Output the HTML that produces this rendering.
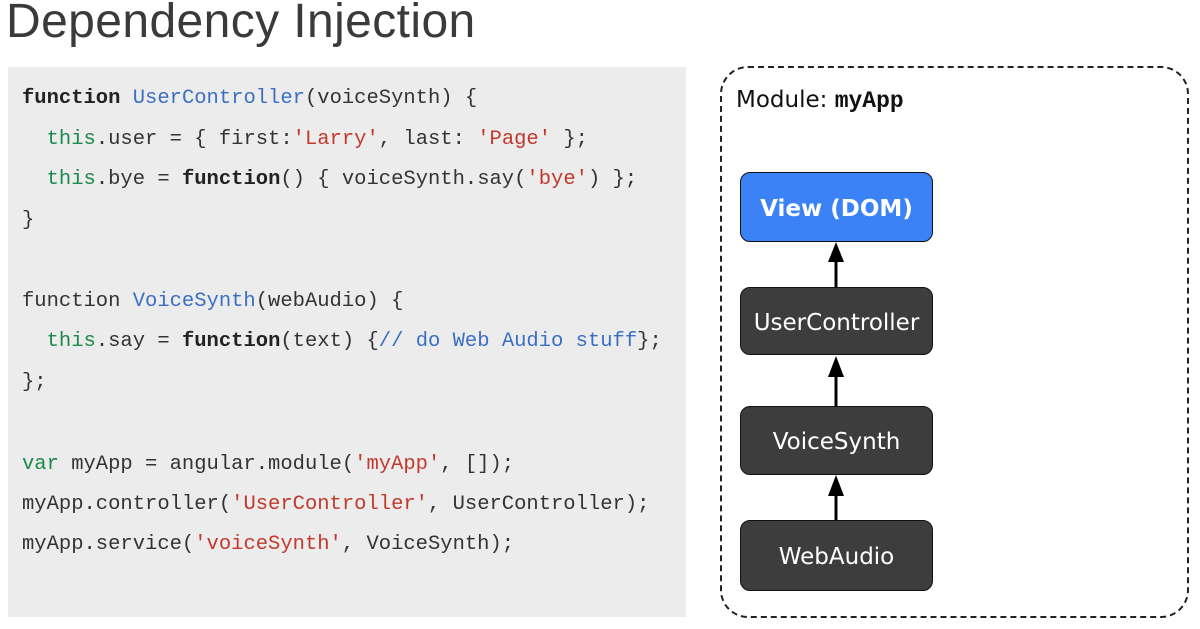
<!DOCTYPE html>
<html><head><meta charset="utf-8"><style>
body{margin:0;width:1200px;height:629px;background:#fff;position:relative;overflow:hidden;font-family:"Liberation Sans",sans-serif}
.title{position:absolute;left:6px;top:-6px;font-size:48px;color:#3a3a3a;letter-spacing:0.4px}
.code{position:absolute;left:8px;top:67px;width:678px;height:550px;background:#ececec}
.l{position:absolute;left:22px;font-family:"Liberation Mono",monospace;font-size:20.5px;color:#333;white-space:pre}
.k{font-weight:bold;color:#222}.t{color:#1a8a4a}.s{color:#c0392b}.b{color:#3a6fc4}
.mod{position:absolute;left:720px;top:66px;width:465px;height:548px;border:2px dashed #222;border-radius:28px}
.box{position:absolute;left:740px;width:193px;border:1.5px solid #111;border-radius:10px;background:#3d3d3d;color:#fff;font-size:23px;display:flex;align-items:center;justify-content:center;font-family:"DejaVu Sans",sans-serif;padding-top:3px;box-sizing:border-box}
</style></head><body>
<div class="title">Dependency Injection</div>
<div class="code"></div>
<div class="l" style="top:87px"><span class="k">function</span> <span class="b">UserController</span>(voiceSynth) {</div>
<div class="l" style="top:128px">  <span class="t">this</span>.user = { first:<span class="s">'Larry'</span>, last: <span class="s">'Page'</span> };</div>
<div class="l" style="top:168px">  <span class="t">this</span>.bye = <span class="k">function</span>() { voiceSynth.say(<span class="s">'bye'</span>) };</div>
<div class="l" style="top:209px">}</div>
<div class="l" style="top:290px">function <span class="b">VoiceSynth</span>(webAudio) {</div>
<div class="l" style="top:330px">  <span class="t">this</span>.say = <span class="k">function</span>(text) {<span class="b">// do Web Audio stuff</span>};</div>
<div class="l" style="top:371px">};</div>
<div class="l" style="top:453px"><span class="t">var</span> myApp = angular.module(<span class="s">'myApp'</span>, []);</div>
<div class="l" style="top:493px">myApp.controller(<span class="s">'UserController'</span>, UserController);</div>
<div class="l" style="top:533px">myApp.service(<span class="s">'voiceSynth'</span>, VoiceSynth);</div>
<div class="mod"></div>
<div style="position:absolute;left:736px;top:87px;font-size:23px;font-family:'DejaVu Sans',sans-serif;color:#111">Module: <b style="font-family:'Liberation Mono',monospace">myApp</b></div>
<div class="box" style="top:172px;height:70px;background:#3b82f6;font-weight:bold">View (DOM)</div>
<div class="box" style="top:287px;height:68px">UserController</div>
<div class="box" style="top:406px;height:69px">VoiceSynth</div>
<div class="box" style="top:520px;height:71px">WebAudio</div>
<svg style="position:absolute;left:0;top:0" width="1200" height="629">
<g stroke="#000" stroke-width="3" fill="#000">
<line x1="836" y1="287" x2="836" y2="258"/><polygon points="828,262 844,262 836,242" stroke="none"/>
<line x1="836" y1="406" x2="836" y2="373"/><polygon points="828,377 844,377 836,356" stroke="none"/>
<line x1="836" y1="520" x2="836" y2="492"/><polygon points="828,496 844,496 836,475" stroke="none"/>
</g></svg>
</body></html>
